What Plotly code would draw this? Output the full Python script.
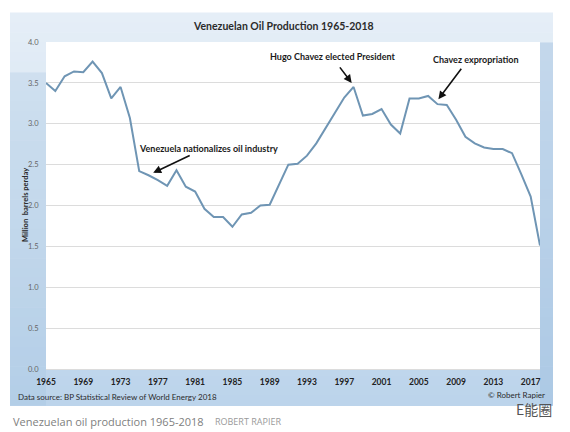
import plotly.graph_objects as go

# ---------------- data ----------------
years = list(range(1965, 2019))
production = [
    3.50, 3.40, 3.58, 3.64, 3.63, 3.76, 3.62, 3.31, 3.45, 3.07,   # 1965-1974
    2.42, 2.37, 2.31, 2.24, 2.43, 2.23, 2.17, 1.96, 1.86, 1.86,   # 1975-1984
    1.74, 1.89, 1.91, 2.00, 2.01, 2.25, 2.50, 2.51, 2.61, 2.76,   # 1985-1994
    2.95, 3.13, 3.32, 3.45, 3.10, 3.12, 3.18, 2.99, 2.88, 3.31,   # 1995-2004
    3.31, 3.34, 3.24, 3.23, 3.05, 2.84, 2.76, 2.71, 2.69, 2.69,   # 2005-2014
    2.64, 2.38, 2.11, 1.51,                                       # 2015-2018
]
tick_years = list(range(1965, 2018, 4))
y_ticks = [0.0, 0.5, 1.0, 1.5, 2.0, 2.5, 3.0, 3.5, 4.0]

title_text = "Venezuelan Oil Production 1965-2018"
y_title = "Million  barrels perday"
source_text = "Data source: BP Statistical Review of World Energy 2018"
credit_text = "© Robert Rapier"
caption_text = "Venezuelan oil production 1965-2018"
caption_author = "ROBERT RAPIER"
events = [
    # label, year, value, arrow tail offset (px), text centre (px)
    ("Venezuela nationalizes oil industry", 1976.5, 2.40, (38, -18), (208, 148)),
    ("Hugo Chavez elected President", 1997.8, 3.50, (-13, -17), (332, 57)),
    ("Chavez expropriation", 2007.1, 3.30, (24, -32), (475, 59)),
]

# ---------------- geometry ----------------
W, H = 570, 432
L, R, T, B = 46, 30, 42, 63
PX0, PX1 = L, W - R
PY0, PY1 = T, H - B


def px(x):
    return (x - PX0) / (PX1 - PX0)


def py(y):
    return (PY1 - y) / (PY1 - PY0)


FONT = "Lato, 'Open Sans', sans-serif"
CAP_FONT = "'Open Sans', Lato, sans-serif"

fig = go.Figure()
fig.add_trace(go.Scatter(
    x=years, y=production, mode="lines",
    line=dict(color="#6f95b4", width=2),
    hoverinfo="x+y", showlegend=False,
))

shapes = []
# blue framed panel with vertical gradient
bx0, bx1, by0, by1 = 10, 553, 12.5, 405.5
n = 40
c_top = (229, 238, 247)
c_bot = (188, 212, 235)
for i in range(n):
    f = i / (n - 1)
    c = tuple(int(round(c_top[k] + (c_bot[k] - c_top[k]) * f)) for k in range(3))
    y0 = by0 + (by1 - by0) * i / n
    y1 = by0 + (by1 - by0) * (i + 1) / n + 0.6
    shapes.append(dict(type="rect", xref="paper", yref="paper",
                       x0=px(bx0), x1=px(bx1), y0=py(y1), y1=py(y0),
                       fillcolor="rgb(%d,%d,%d)" % c, line=dict(width=0), layer="below"))
# slightly darker side strips
shapes.append(dict(type="rect", xref="paper", yref="paper",
                   x0=px(PX1), x1=px(bx1), y0=py(by1), y1=py(by0 + 30),
                   fillcolor="rgba(150,185,220,0.40)", line=dict(width=0), layer="below"))
shapes.append(dict(type="rect", xref="paper", yref="paper",
                   x0=px(bx0), x1=px(PX0), y0=py(by1), y1=py(by0 + 60),
                   fillcolor="rgba(150,185,220,0.22)", line=dict(width=0), layer="below"))
# white plot area
shapes.append(dict(type="rect", xref="paper", yref="paper",
                   x0=0, x1=1, y0=0, y1=1,
                   fillcolor="white", line=dict(width=0), layer="below"))

annotations = []
annotations.append(dict(text="<b>%s</b>" % title_text, xref="paper", yref="paper",
                        x=px(283), y=py(26), xanchor="center", yanchor="middle",
                        showarrow=False, font=dict(family=FONT, size=10.5, color="#2b2b2b")))
annotations.append(dict(text="<b>%s</b>" % y_title, xref="paper", yref="paper",
                        x=px(25), y=py(205), xanchor="center", yanchor="middle",
                        textangle=-90, showarrow=False,
                        font=dict(family=FONT, size=7.5, color="#2b2b2b")))
annotations.append(dict(text=source_text, xref="paper", yref="paper",
                        x=px(16), y=py(397), xanchor="left", yanchor="middle",
                        showarrow=False, font=dict(family=FONT, size=8, color="#2b2b2b")))
annotations.append(dict(text=credit_text, xref="paper", yref="paper",
                        x=px(547), y=py(395), xanchor="right", yanchor="middle",
                        showarrow=False, font=dict(family=FONT, size=8, color="#2b2b2b")))
annotations.append(dict(text="E能圈", xref="paper", yref="paper",
                        x=px(534), y=py(409), xanchor="center", yanchor="middle",
                        showarrow=False,
                        font=dict(family="Noto Sans CJK SC", size=14, color="#555555")))
annotations.append(dict(text=caption_text, xref="paper", yref="paper",
                        x=px(11), y=py(421), xanchor="left", yanchor="middle",
                        showarrow=False, font=dict(family=CAP_FONT, size=11, color="#808080")))
annotations.append(dict(text=caption_author, xref="paper", yref="paper",
                        x=px(213), y=py(421.5), xanchor="left", yanchor="middle",
                        showarrow=False, font=dict(family=CAP_FONT, size=9, color="#9a9a9a")))

for label, yr, val, (ax, ay), (tx, ty) in events:
    annotations.append(dict(text="", x=yr, y=val, xref="x", yref="y",
                            ax=ax, ay=ay, showarrow=True, arrowhead=2,
                            arrowsize=1, arrowwidth=1.6, arrowcolor="#111111"))
    annotations.append(dict(text="<b>%s</b>" % label, xref="paper", yref="paper",
                            x=px(tx), y=py(ty), xanchor="center", yanchor="middle",
                            showarrow=False, font=dict(family=FONT, size=9, color="#1a1a1a")))

fig.update_layout(
    width=W, height=H,
    margin=dict(l=L, r=R, t=T, b=B, pad=0),
    paper_bgcolor="white", plot_bgcolor="white",
    shapes=shapes, annotations=annotations,
    showlegend=False,
    xaxis=dict(range=[1965, 2018], tickvals=tick_years,
               ticktext=[str(y) for y in tick_years],
               showgrid=False, zeroline=False, showline=False,
               ticks="outside", ticklen=5, tickcolor="rgba(0,0,0,0)",
               tickfont=dict(family=FONT, size=8.5, color="#222222", weight="bold"),
               fixedrange=True),
    yaxis=dict(range=[0, 4], tickvals=y_ticks,
               ticktext=["%.1f" % v for v in y_ticks],
               showgrid=True, gridcolor="#dcdcdc", gridwidth=1,
               zeroline=True, zerolinecolor="#dcdcdc", zerolinewidth=1,
               showline=False,
               ticks="outside", ticklen=5, tickcolor="rgba(0,0,0,0)",
               tickfont=dict(family=FONT, size=7.5, color="#666666"),
               fixedrange=True),
)

fig.write_html("out.html", config={"displayModeBar": False},
               post_script="document.body.style.margin='0px';document.body.style.overflow='hidden';")
